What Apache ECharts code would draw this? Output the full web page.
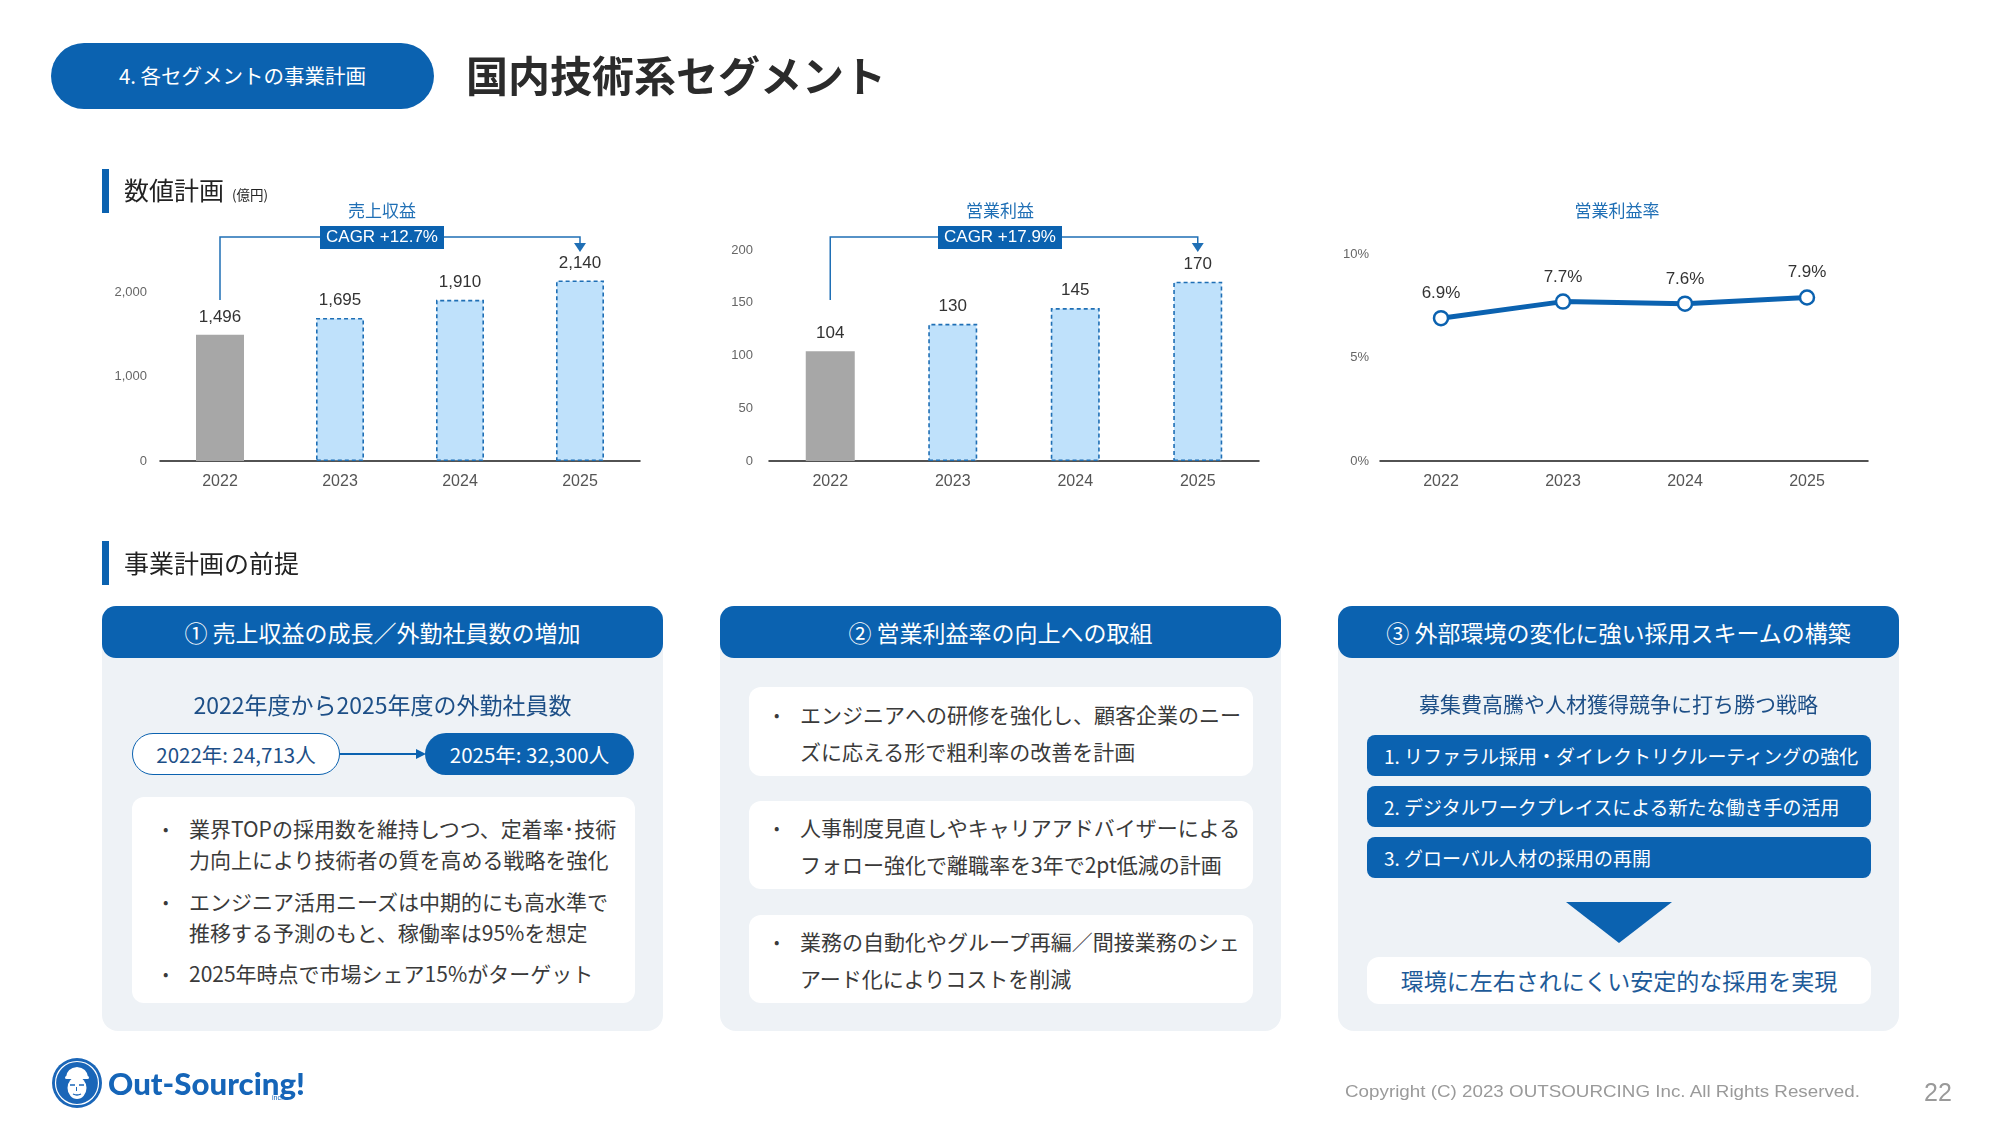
<!DOCTYPE html>
<html><head><meta charset="utf-8">
<script src="https://cdn.jsdelivr.net/npm/echarts@6.0.0/dist/echarts.min.js"></script>
<style>
html,body{margin:0;padding:0;background:#fff;}
body{width:2000px;height:1125px;position:relative;overflow:hidden;font-family:"Noto Sans CJK JP","Noto Sans",sans-serif;color:#333;}
#chart{position:absolute;left:0;top:0;width:2000px;height:1125px;}
.a{position:absolute;white-space:nowrap;}
.pill{left:51px;top:43px;width:383px;height:66px;border-radius:33px;background:#0b62b0;color:#fff;font-size:20.5px;line-height:64px;text-align:center;}
.title{left:466px;top:44px;font-size:42px;line-height:60px;font-weight:700;color:#2b2b2b;}
.secbar{width:7px;height:44px;background:#0b62b0;left:102px;}
.sectxt{left:124px;font-size:25px;line-height:40px;color:#222;}
.panel{top:606px;width:561px;height:425px;background:#eef2f6;border-radius:16px;}
.phead{position:absolute;left:0;top:0;width:561px;height:52px;border-radius:14px;background:#0b62b0;color:#fff;font-size:23px;line-height:52px;text-align:center;white-space:nowrap;}
.sub{position:absolute;left:0;width:561px;text-align:center;font-size:23px;line-height:30px;color:#1d4f87;white-space:nowrap;}
.wbox{position:absolute;left:29px;width:504px;background:#fff;border-radius:12px;}
.bul{position:absolute;left:0;font-size:21px;color:#3a3a3a;white-space:nowrap;}
.bul .dot{position:absolute;left:-26px;font-size:16px;}
.bbar{position:absolute;left:29px;width:504px;height:41px;background:#0b62b0;border-radius:8px;color:#fff;font-size:19px;line-height:41px;white-space:nowrap;}
.bbar span{position:absolute;left:17px;}
.cnt{position:absolute;top:127px;height:42px;border-radius:21px;font-size:20.5px;line-height:40px;text-align:center;box-sizing:border-box;white-space:nowrap;}
</style></head>
<body>
<div id="chart"></div>

<div class="a pill">4. 各セグメントの事業計画</div>
<div class="a title">国内技術系セグメント</div>

<div class="a secbar" style="top:169px"></div>
<div class="a sectxt" style="top:169px">数値計画<span style="font-size:13.5px;margin-left:8px;position:relative;top:0px">(億円)</span></div>

<div class="a secbar" style="top:541px"></div>
<div class="a sectxt" style="top:542px">事業計画の前提</div>

<!-- Panel 1 -->
<div class="a panel" style="left:102px">
  <div class="phead">①&nbsp;売上収益の成長／外勤社員数の増加</div>
  <div class="sub" style="top:83px">2022年度から2025年度の外勤社員数</div>
  <div class="cnt" style="left:30px;width:208px;border:1.5px solid #0b62b0;background:#fff;color:#1d4f87;">2022年: 24,713人</div>
  <div style="position:absolute;left:238px;top:147px;width:78px;height:1.5px;background:#0b62b0"></div>
  <div style="position:absolute;left:314px;top:143px;width:0;height:0;border-top:5px solid transparent;border-bottom:5px solid transparent;border-left:10px solid #0b62b0"></div>
  <div class="cnt" style="left:323px;width:209px;background:#0b62b0;color:#fff;line-height:42px">2025年: 32,300人</div>
  <div class="wbox" style="top:191px;height:206px;left:30px;width:503px">
    <div class="bul" style="left:57px;top:16px;line-height:31px"><span class="dot">•</span>業界TOPの採用数を維持しつつ、定着率･技術<br>力向上により技術者の質を高める戦略を強化</div>
    <div class="bul" style="left:57px;top:89px;line-height:31px"><span class="dot">•</span>エンジニア活用ニーズは中期的にも高水準で<br>推移する予測のもと、稼働率は95%を想定</div>
    <div class="bul" style="left:57px;top:161px;line-height:31px"><span class="dot">•</span>2025年時点で市場シェア15%がターゲット</div>
  </div>
</div>

<!-- Panel 2 -->
<div class="a panel" style="left:720px">
  <div class="phead">②&nbsp;営業利益率の向上への取組</div>
  <div class="wbox" style="top:81px;height:89px">
    <div class="bul" style="left:51px;top:9px;line-height:37px"><span class="dot">•</span>エンジニアへの研修を強化し、顧客企業のニー<br>ズに応える形で粗利率の改善を計画</div>
  </div>
  <div class="wbox" style="top:195px;height:88px">
    <div class="bul" style="left:51px;top:8px;line-height:37px"><span class="dot">•</span>人事制度見直しやキャリアアドバイザーによる<br>フォロー強化で離職率を3年で2pt低減の計画</div>
  </div>
  <div class="wbox" style="top:309px;height:88px">
    <div class="bul" style="left:51px;top:8px;line-height:37px"><span class="dot">•</span>業務の自動化やグループ再編／間接業務のシェ<br>アード化によりコストを削減</div>
  </div>
</div>

<!-- Panel 3 -->
<div class="a panel" style="left:1338px">
  <div class="phead">③&nbsp;外部環境の変化に強い採用スキームの構築</div>
  <div class="sub" style="top:82px;font-size:21px">募集費高騰や人材獲得競争に打ち勝つ戦略</div>
  <div class="bbar" style="top:129px"><span>1. リファラル採用・ダイレクトリクルーティングの強化</span></div>
  <div class="bbar" style="top:180px"><span>2. デジタルワークプレイスによる新たな働き手の活用</span></div>
  <div class="bbar" style="top:231px"><span>3. グローバル人材の採用の再開</span></div>
  <div style="position:absolute;left:228px;top:296px;width:0;height:0;border-left:53px solid transparent;border-right:53px solid transparent;border-top:41px solid #0b62b0"></div>
  <div class="wbox" style="top:351px;height:47px;text-align:center;font-size:23px;line-height:47px;color:#1d5a98;white-space:nowrap">環境に左右されにくい安定的な採用を実現</div>
</div>

<!-- Footer -->
<svg class="a" style="left:51px;top:1057px" width="52" height="52" viewBox="0 0 52 52">
  <circle cx="26" cy="26" r="25" fill="#1a66b8"/>
  <circle cx="26" cy="26" r="21.5" fill="none" stroke="#fff" stroke-width="1.2"/>
  <path d="M15 20 Q16 11 26 10 Q36 11 37 20 Z" fill="#fff"/>
  <rect x="14" y="19" width="24" height="3" rx="1.5" fill="#fff"/>
  <ellipse cx="26" cy="31" rx="9.5" ry="11" fill="#fff"/>
  <path d="M19 28 h5 M28 28 h5" stroke="#1a66b8" stroke-width="1.5"/>
  <path d="M22 37 Q26 39 30 37" stroke="#1a66b8" stroke-width="1.3" fill="none"/>
  <path d="M25.5 30 v4" stroke="#1a66b8" stroke-width="1"/>
</svg>
<div class="a" id="logoTxt" style="left:108px;top:1064px;font-family:Lato,'DejaVu Sans',sans-serif;font-weight:900;font-size:31px;line-height:38px;color:#1565b8;transform-origin:0 50%">Out-Sourcing!</div>
<div class="a" style="left:272px;top:1094px;font-family:'Liberation Sans',sans-serif;font-size:7px;color:#1565b8">inc.</div>
<div class="a" id="copy" style="left:1345px;top:1080px;font-family:'Liberation Sans',Arial,sans-serif;font-size:17px;line-height:24px;color:#9a9a9a;transform-origin:0 50%">Copyright (C) 2023 OUTSOURCING Inc. All Rights Reserved.</div>
<div class="a" style="left:1924px;top:1077px;font-family:'Liberation Sans',Arial,sans-serif;font-size:25px;line-height:30px;color:#9a9a9a">22</div>

<script>
// ---- data ----
const years = ['2022', '2023', '2024', '2025'];
const revenue = [1496, 1695, 1910, 2140];
const opProfit = [104, 130, 145, 170];
const opMargin = [6.9, 7.7, 7.6, 7.9];
const isPlan = [false, true, true, true];
const chartTitles = ['売上収益', '営業利益', '営業利益率'];
const cagrLabels = ['CAGR +12.7%', 'CAGR +17.9%'];
const revTicks = [0, 1000, 2000];
const profitTicks = [0, 50, 100, 150, 200];
const marginTicks = [0, 5, 10];

// ---- fit text widths ----
function fitW(id, w) {
  const el = document.getElementById(id);
  const nw = el.getBoundingClientRect().width;
  if (nw > 0) el.style.transform = 'scaleX(' + (w / nw) + ')';
}
fitW('copy', 515);
fitW('logoTxt', 197);

const BLUE = '#0b62b0';
const LINEBLUE = '#1f6fb5';
const numFont = "'Liberation Sans', Arial, sans-serif";
const cjkFont = "'Noto Sans CJK JP', sans-serif";

function barData(vals) {
  return vals.map((v, i) => isPlan[i]
    ? { value: v, itemStyle: { color: '#bfe1fb', borderColor: LINEBLUE, borderType: [4, 3], borderWidth: 1.6 } }
    : { value: v, itemStyle: { color: '#a7a7a7' } });
}
function fmtComma(v) { return String(v).replace(/\B(?=(\d{3})+(?!\d))/g, ','); }

const grids = [
  { left: 160, top: 250, width: 480, height: 211 },
  { left: 769, top: 250, width: 490, height: 211 },
  { left: 1380, top: 254, width: 488, height: 207 }
];
const xAxes = grids.map((g, i) => ({
  type: 'category', gridIndex: i, data: years,
  axisLine: { lineStyle: { color: '#1a1a1a', width: 1.5 } },
  axisTick: { show: false },
  axisLabel: { color: '#555', fontSize: 16, fontFamily: numFont, margin: 13 }
}));
const yAxes = [
  { type: 'value', gridIndex: 0, min: 0, max: 2500, interval: 500,
    axisLabel: { color: '#666', fontSize: 13, fontFamily: numFont, margin: 13,
      formatter: v => revTicks.includes(v) ? fmtComma(v) : '' } },
  { type: 'value', gridIndex: 1, min: 0, max: 200, interval: 50,
    axisLabel: { color: '#666', fontSize: 13, fontFamily: numFont, margin: 16,
      formatter: v => profitTicks.includes(v) ? String(v) : '' } },
  { type: 'value', gridIndex: 2, min: 0, max: 10, interval: 5,
    axisLabel: { color: '#666', fontSize: 13, fontFamily: numFont, margin: 11,
      formatter: v => marginTicks.includes(v) ? v + '%' : '' } }
].map(a => Object.assign(a, { axisLine: { show: false }, axisTick: { show: false }, splitLine: { show: false } }));

const labelStyle = { show: true, position: 'top', color: '#333', fontSize: 17, fontFamily: numFont };

const chart = echarts.init(document.getElementById('chart'), null, { renderer: 'canvas' });
chart.setOption({
  animation: false,
  backgroundColor: 'transparent',
  title: [
    { text: chartTitles[0], left: 377, top: 197, textAlign: 'center' },
    { text: chartTitles[1], left: 995, top: 197, textAlign: 'center' },
    { text: chartTitles[2], left: 1612, top: 197, textAlign: 'center' }
  ].map(t => Object.assign(t, { textStyle: { color: LINEBLUE, fontSize: 17, fontWeight: 'normal', fontFamily: cjkFont } })),
  grid: grids,
  xAxis: xAxes,
  yAxis: yAxes,
  series: [
    { type: 'bar', xAxisIndex: 0, yAxisIndex: 0, data: barData(revenue), barWidth: 48,
      label: Object.assign({}, labelStyle, { distance: 9, formatter: p => fmtComma(p.value) }) },
    { type: 'bar', xAxisIndex: 1, yAxisIndex: 1, data: barData(opProfit), barWidth: 49,
      label: Object.assign({}, labelStyle, { distance: 9 }) },
    { type: 'line', xAxisIndex: 2, yAxisIndex: 2, data: opMargin,
      lineStyle: { color: BLUE, width: 5 },
      symbol: 'circle', symbolSize: 14,
      itemStyle: { color: '#fff', borderColor: BLUE, borderWidth: 2.5 },
      label: Object.assign({}, labelStyle, { distance: 8, formatter: p => p.value.toFixed(1) + '%' }) }
  ]
});

// ---- CAGR brackets (positions from the axes) ----
function bracket(gi, vals, boxCx, text) {
  const p0 = chart.convertToPixel({ xAxisIndex: gi, yAxisIndex: gi }, [0, vals[0]]);
  const p3 = chart.convertToPixel({ xAxisIndex: gi, yAxisIndex: gi }, [vals.length - 1, vals[vals.length - 1]]);
  const yTop = grids[gi].top - 13;
  const yLeftEnd = grids[gi].top + 50;
  const s = { stroke: LINEBLUE, lineWidth: 1.5, fill: null };
  return [
    { type: 'polyline', shape: { points: [[p0[0], yLeftEnd], [p0[0], yTop], [p3[0], yTop], [p3[0], yTop + 6]] }, style: s, z: 10 },
    { type: 'polygon', shape: { points: [[p3[0] - 6, yTop + 6], [p3[0] + 6, yTop + 6], [p3[0], yTop + 15]] }, style: { fill: LINEBLUE }, z: 10 },
    { type: 'rect', shape: { x: boxCx - 62, y: yTop - 11, width: 124, height: 23 }, style: { fill: BLUE }, z: 11 },
    { type: 'text', x: boxCx, y: yTop + 0.5, style: { text: text, fill: '#fff', fontSize: 17, fontFamily: numFont, align: 'center', verticalAlign: 'middle' }, z: 12 }
  ];
}
chart.setOption({
  graphic: [].concat(bracket(0, revenue, 382, cagrLabels[0]), bracket(1, opProfit, 1000, cagrLabels[1]))
});
</script>
</body></html>
